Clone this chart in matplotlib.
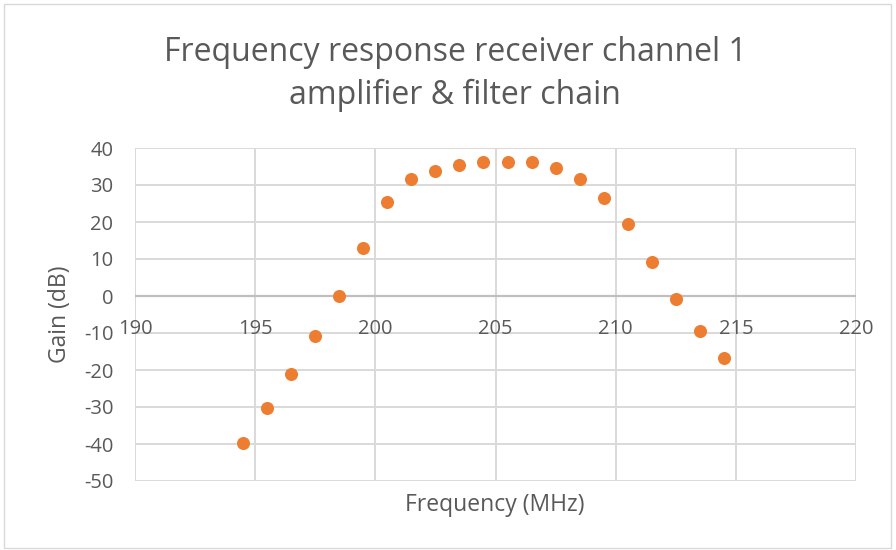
import matplotlib
matplotlib.use("Agg")
import matplotlib.pyplot as plt
from matplotlib.patches import Rectangle

# Measured gain of receiver channel 1 (amplifier + filter chain)
freq_mhz = [194.5, 195.5, 196.5, 197.5, 198.5, 199.5, 200.5, 201.5, 202.5, 203.5,
            204.5, 205.5, 206.5, 207.5, 208.5, 209.5, 210.5, 211.5, 212.5, 213.5, 214.5]
gain_db = [-39.8, -30.4, -21.0, -10.8, 0.0, 13.0, 25.3, 31.6, 33.8, 35.4,
           36.1, 36.1, 36.1, 34.6, 31.6, 26.6, 19.4, 9.3, -0.8, -9.5, -16.7]

x_ticks = [190, 195, 200, 205, 210, 215, 220]
y_ticks = [40, 30, 20, 10, 0, -10, -20, -30, -40, -50]

title = "Frequency response receiver channel 1\namplifier & filter chain"
x_label = "Frequency (MHz)"
y_label = "Gain (dB)"

TEXT = "#595959"
GRID = "#D9D9D9"
AXIS = "#BFBFBF"
ORANGE = "#ED7D31"
FONT = "Open Sans"
TICK_SIZE = 14.5
LABEL_SIZE = 16.5

fig = plt.figure(figsize=(8.96, 5.5), dpi=100)
fig.patch.set_facecolor("white")

# chart-area frame
fig.add_artist(Rectangle((4 / 896, 2 / 550), 887 / 896, 544 / 550,
                         transform=fig.transFigure, fill=False,
                         edgecolor="#D9D9D9", linewidth=1.0))

ax = fig.add_axes([135 / 896, 1 - 481 / 550, 721 / 896, 333 / 550])
ax.set_xlim(190, 220)
ax.set_ylim(-50, 40)

for s in ax.spines.values():
    s.set_visible(False)

ax.set_xticks(x_ticks)
ax.set_yticks(y_ticks)
ax.grid(True, color=GRID, linewidth=1.4)
ax.set_axisbelow(True)
ax.tick_params(length=0)
ax.set_xticklabels([])
ax.set_yticklabels([str(v) for v in y_ticks], fontsize=TICK_SIZE, color=TEXT,
                   fontfamily=FONT)
ax.tick_params(axis="y", pad=15.5)

# horizontal axis line sits at zero gain
ax.axhline(0, color=AXIS, linewidth=1.6, zorder=1)

# x tick labels hang just below the zero line
for xv in x_ticks:
    ax.annotate(str(xv), xy=(xv, 0), xytext=(0, -33), textcoords="offset pixels",
                ha="center", va="center", fontsize=TICK_SIZE, color=TEXT,
                fontfamily=FONT, annotation_clip=False)

ax.plot(freq_mhz, gain_db, linestyle="none", marker="o", markersize=9.4,
        color=ORANGE, markeredgewidth=0, zorder=3)

fig.text(455 / 896, 1 - 74 / 550, title, ha="center", va="center",
         fontsize=23, color=TEXT, fontfamily=FONT, linespacing=1.35)
fig.text(495 / 896, 1 - 505 / 550, x_label, ha="center", va="center",
         fontsize=LABEL_SIZE, color=TEXT, fontfamily=FONT)
fig.text(60 / 896, 1 - 314 / 550, y_label, ha="center", va="center",
         rotation=90, fontsize=LABEL_SIZE, color=TEXT, fontfamily=FONT)

fig.savefig("out.png", dpi=100)
